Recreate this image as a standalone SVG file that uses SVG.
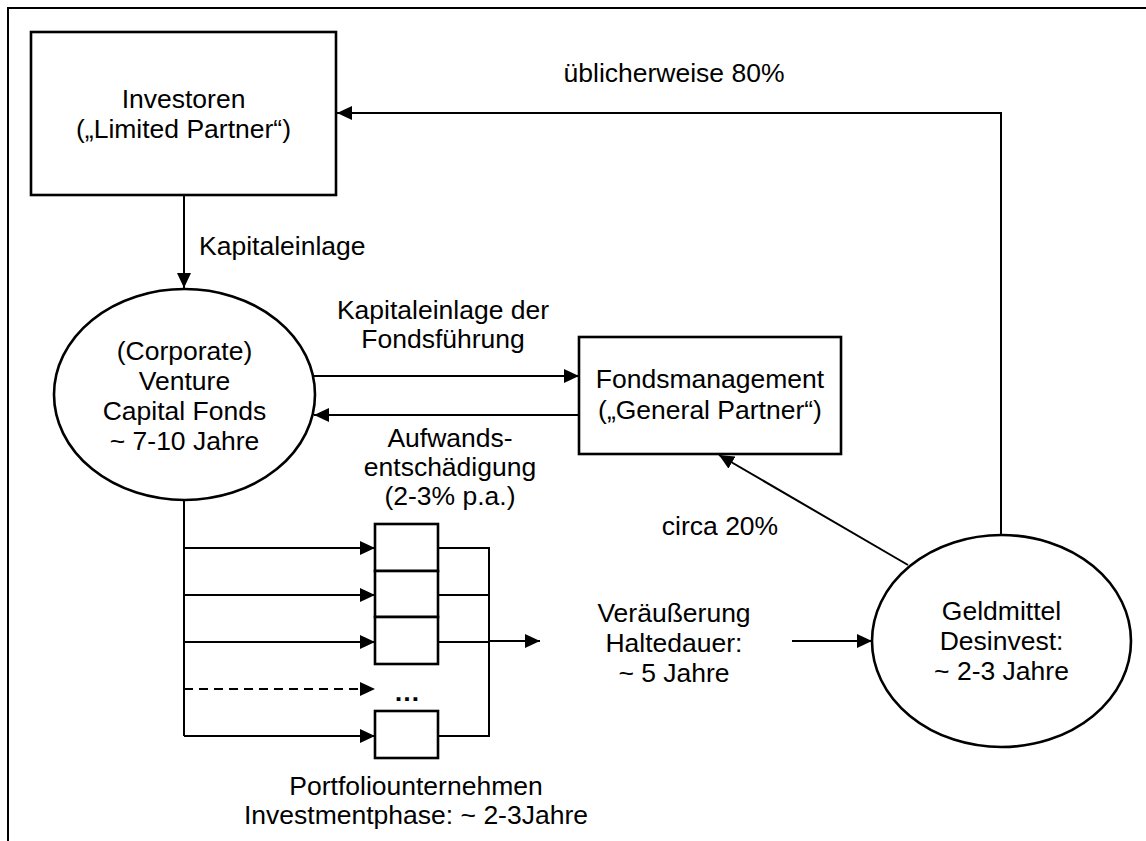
<svg xmlns="http://www.w3.org/2000/svg" width="1146" height="841" viewBox="0 0 1146 841">
  <style>
    .node { fill: #ffffff; stroke: #000000; stroke-width: 2.6; }
    .link { fill: none; stroke: #000000; stroke-width: 2; }
    .dash { stroke-dasharray: 9 6; }
    .lbl { font-family: "Liberation Sans", Arial, sans-serif; font-size: 26.5px; fill: #000000; text-anchor: middle; }
    .start { text-anchor: start; }
  </style>
  <defs>
    <marker id="arrow" markerUnits="userSpaceOnUse" markerWidth="16" markerHeight="14" refX="15" refY="7" orient="auto">
      <path d="M0,0 L15,7 L0,14 Z" fill="#000000"/>
    </marker>
  </defs>

  <rect width="1146" height="841" fill="#ffffff"/>

  <!-- outer frame -->
  <path d="M8,841 V8 H1146" fill="none" stroke="#000000" stroke-width="2"/>

  <!-- connectors -->
  <g id="connectors">
    <!-- Investoren -> VC Fonds -->
    <line class="link" x1="184" y1="195" x2="184" y2="288" marker-end="url(#arrow)"/>
    <!-- Geldmittel -> Investoren -->
    <polyline class="link" points="1001,535 1001,113 337,113" marker-end="url(#arrow)"/>
    <!-- VC Fonds <-> Fondsmanagement -->
    <line class="link" x1="314" y1="376" x2="579" y2="376" marker-end="url(#arrow)"/>
    <line class="link" x1="579" y1="415" x2="314" y2="415" marker-end="url(#arrow)"/>
    <!-- Geldmittel -> Fondsmanagement -->
    <line class="link" x1="908" y1="565" x2="719" y2="455" marker-end="url(#arrow)"/>
    <!-- VC Fonds -> Portfoliounternehmen -->
    <line class="link" x1="184" y1="500" x2="184" y2="736"/>
    <line class="link" x1="184" y1="548" x2="375" y2="548" marker-end="url(#arrow)"/>
    <line class="link" x1="184" y1="595" x2="375" y2="595" marker-end="url(#arrow)"/>
    <line class="link" x1="184" y1="642" x2="375" y2="642" marker-end="url(#arrow)"/>
    <line class="link dash" x1="184" y1="689" x2="375" y2="689" marker-end="url(#arrow)"/>
    <line class="link" x1="184" y1="736" x2="375" y2="736" marker-end="url(#arrow)"/>
    <!-- Portfoliounternehmen -> Veräußerung -->
    <polyline class="link" points="438,548 489,548 489,736 438,736"/>
    <line class="link" x1="438" y1="595" x2="489" y2="595"/>
    <line class="link" x1="438" y1="642" x2="489" y2="642"/>
    <line class="link" x1="489" y1="641" x2="540" y2="641" stroke-width="3.2" marker-end="url(#arrow)"/>
    <!-- Veräußerung -> Geldmittel -->
    <line class="link" x1="792" y1="641" x2="872" y2="641" marker-end="url(#arrow)"/>
  </g>

  <!-- connector labels -->
  <g id="labels">
    <text class="lbl start" x="199" y="255">Kapitaleinlage</text>
    <text class="lbl" x="674" y="82">üblicherweise 80%</text>
    <text class="lbl" x="443" y="319">Kapitaleinlage der</text>
    <text class="lbl" x="443" y="348">Fondsführung</text>
    <text class="lbl" x="450" y="447">Aufwands-</text>
    <text class="lbl" x="450" y="476">entschädigung</text>
    <text class="lbl" x="450" y="505">(2-3% p.a.)</text>
    <text class="lbl" x="720" y="535">circa 20%</text>
  </g>

  <g id="investoren">
    <rect class="node" x="31" y="32" width="305" height="163"/>
    <text class="lbl" x="183.5" y="108">Investoren</text>
    <text class="lbl" x="183.5" y="138">(„Limited Partner“)</text>
  </g>

  <g id="vc-fonds">
    <ellipse class="node" cx="184.5" cy="394.5" rx="130.5" ry="105.5"/>
    <text class="lbl" x="184.5" y="360">(Corporate)</text>
    <text class="lbl" x="184.5" y="390">Venture</text>
    <text class="lbl" x="184.5" y="420">Capital Fonds</text>
    <text class="lbl" x="184.5" y="450">~ 7-10 Jahre</text>
  </g>

  <g id="fondsmanagement">
    <rect class="node" x="579" y="337" width="262" height="117"/>
    <text class="lbl" x="710" y="388">Fondsmanagement</text>
    <text class="lbl" x="710" y="419">(„General Partner“)</text>
  </g>

  <g id="portfoliounternehmen">
    <rect class="node" x="375" y="524" width="63" height="47"/>
    <rect class="node" x="375" y="571" width="63" height="46"/>
    <rect class="node" x="375" y="617" width="63" height="47"/>
    <text class="lbl" x="407" y="701" font-weight="bold">…</text>
    <rect class="node" x="375" y="711" width="63" height="47"/>
    <text class="lbl" x="416" y="795">Portfoliounternehmen</text>
    <text class="lbl" x="416" y="824">Investmentphase: ~ 2-3Jahre</text>
  </g>

  <g id="veraeusserung">
    <text class="lbl" x="674" y="622">Veräußerung</text>
    <text class="lbl" x="674" y="652">Haltedauer:</text>
    <text class="lbl" x="674" y="682">~ 5 Jahre</text>
  </g>

  <g id="geldmittel">
    <ellipse class="node" cx="1001.5" cy="641" rx="129.5" ry="106"/>
    <text class="lbl" x="1001.5" y="620">Geldmittel</text>
    <text class="lbl" x="1001.5" y="650">Desinvest:</text>
    <text class="lbl" x="1001.5" y="680">~ 2-3 Jahre</text>
  </g>
</svg>
